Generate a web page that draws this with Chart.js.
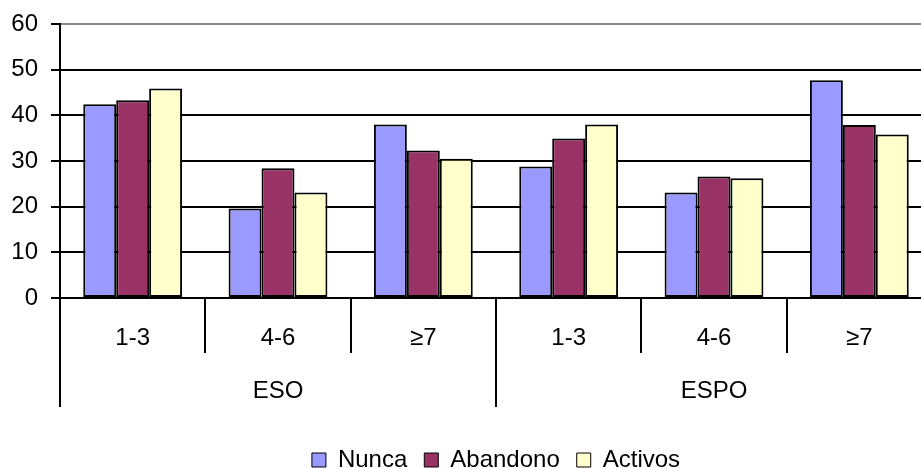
<!DOCTYPE html>
<html>
<head>
<meta charset="utf-8">
<script src="https://cdn.jsdelivr.net/npm/chart.js@4/dist/chart.umd.min.js"></script>
<style>
  html, body { margin: 0; padding: 0; background: #fff; overflow: hidden; }
  /* the plot runs a little past the right edge of the page */
  #wrap { position: absolute; left: 0; top: 0; width: 989px; height: 468px; }
</style>
</head>
<body>
<div id="wrap"><canvas id="c"></canvas></div>
<script>
// Sessions per week, grouped by school level
const groups = ['ESO', 'ESPO'];
const categories = ['1-3', '4-6', '≥7', '1-3', '4-6', '≥7'];
const yTicks = [0, 10, 20, 30, 40, 50, 60];

const seriesNames = ['Nunca', 'Abandono', 'Activos'];
const nunca    = [42.4, 19.6, 38.0, 28.8, 23.1, 47.7];
const abandono = [43.3, 28.4, 32.3, 34.9, 26.6, 37.9];
const activos  = [45.9, 23.1, 30.5, 38.0, 26.2, 35.8];

const colors = ['#9999FF', '#993366', '#FFFFCC'];
const FONT = { family: '"Liberation Sans", Arial, sans-serif', size: 24 };

const datasets = [nunca, abandono, activos].map((values, i) => ({
  label: seriesNames[i],
  data: values,
  backgroundColor: colors[i],
  borderColor: '#000',
  borderWidth: 2,
  borderSkipped: false,
  categoryPercentage: 0.68,
  barPercentage: 1.0,
  xAxisID: 'x'
}));

new Chart(document.getElementById('c'), {
  type: 'bar',
  data: { labels: categories, datasets },
  options: {
    responsive: true,
    maintainAspectRatio: false,
    animation: false,
    layout: { padding: { top: 24, right: 57, left: 0, bottom: -14 } },
    plugins: {
      tooltip: { enabled: false },
      legend: {
        position: 'bottom',
        fullSize: false,
        labels: {
          font: FONT,
          color: '#000',
          boxWidth: 14,
          boxHeight: 14,
          padding: 17,
          generateLabels(chart) {
            return Chart.defaults.plugins.legend.labels.generateLabels(chart)
              .map(l => Object.assign(l, { lineWidth: 1 }));
          }
        }
      }
    },
    scales: {
      y: {
        min: 0,
        max: 60,
        afterFit(scale) { scale.width = 60; scale.paddingTop = 0; scale.paddingBottom = 0; },
        afterBuildTicks(scale) { scale.ticks = yTicks.map(v => ({ value: v })); },
        border: { display: true, color: '#000', width: 2 },
        grid: {
          color: ctx => (ctx.tick && ctx.tick.value === 60 ? '#8a8a8a' : '#000'),
          lineWidth: 2,
          tickLength: 9,
          tickColor: '#000',
          tickWidth: 2
        },
        ticks: { font: FONT, color: '#000', padding: 13 }
      },
      // inner row: session ranges, separated by long tick marks
      x: {
        position: 'bottom',
        offset: true,
        afterFit(scale) { scale.height = 55; },
        border: { display: true, color: '#000', width: 2 },
        grid: { offset: true, drawOnChartArea: false, lineWidth: 2, tickLength: 55, tickColor: '#000', tickWidth: 2 },
        ticks: { font: FONT, color: '#000', padding: -29, maxRotation: 0, autoSkip: false }
      },
      // outer row: school level
      group: {
        type: 'category',
        position: 'bottom',
        labels: groups,
        offset: true,
        afterFit(scale) { scale.height = 78; },
        border: { display: false },
        grid: { offset: true, drawOnChartArea: false, lineWidth: 2, tickLength: 54, tickColor: '#000', tickWidth: 2 },
        ticks: { font: FONT, color: '#000', padding: -30, maxRotation: 0, autoSkip: false }
      }
    }
  }
});
</script>
</body>
</html>
